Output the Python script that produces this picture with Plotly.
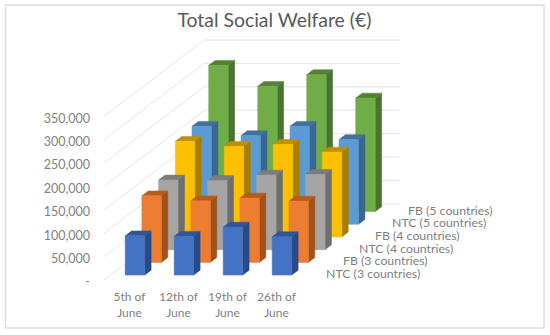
import plotly.graph_objects as go

categories = ["5th of<br>June", "12th of<br>June", "19th of<br>June", "26th of<br>June"]
series_names = ["NTC (3 countries)", "FB (3 countries)", "NTC (4 countries)",
                "FB (4 countries)", "NTC (5 countries)", "FB (5 countries)"]
ntc_3 = [84000, 83000, 102500, 82000]
fb_3 = [142300, 131600, 137400, 131000]
ntc_4 = [149000, 148000, 159600, 161000]
fb_4 = [204500, 193800, 198000, 181600]
ntc_5 = [209400, 189500, 209400, 181000]
fb_5 = [312600, 267700, 292700, 242700]
all_values = [ntc_3, fb_3, ntc_4, fb_4, ntc_5, fb_5]
y_ticks = [0, 50000, 100000, 150000, 200000, 250000, 300000, 350000]
y_labels = ["-", "50,000", "100,000", "150,000", "200,000", "250,000", "300,000", "350,000"]

front = ["#4472C4", "#ED7D31", "#A5A5A5", "#FFC000", "#5B9BD5", "#70AD47"]
side = ["#2A4A86", "#A0521C", "#6E6E6E", "#A87E00", "#3A6690", "#4A7230"]
top = ["#2F5597", "#B85C1E", "#7C7C7C", "#BF9000", "#41719C", "#548235"]

# scale of the drawing area
PX_X = 49.0                 # pixels per category
PX_Y = 23.4 / 50000         # pixels per value unit
DX = 16.7 / PX_X            # oblique shift per series, in category units
DY = 12.7 / PX_Y            # oblique shift per series, in value units
BAR_W = 19.5 / PX_X
BAR_D = 0.385               # depth of a bar, in series cells
BAR_F = 0.385               # gap in front of a bar, in series cells

fig = go.Figure()


def add_line(xs, ys, color="#E4E4E4", width=1):
    fig.add_trace(go.Scatter(x=xs, y=ys, mode="lines", line=dict(color=color, width=width),
                             hoverinfo="skip", showlegend=False))


n_s = len(all_values)
n_c = len(categories)
for v in y_ticks:
    add_line([0, n_s * DX, n_c + n_s * DX], [v, v + n_s * DY, v + n_s * DY])


def poly(out_x, out_y, pts):
    out_x += [p[0] for p in pts] + [pts[0][0], None]
    out_y += [p[1] for p in pts] + [pts[0][1], None]


for s in range(n_s - 1, -1, -1):
    fx, fy, sx, sy, tx, ty = [], [], [], [], [], []
    for c, val in enumerate(all_values[s]):
        x0 = c + 0.5 - BAR_W / 2 + (s + BAR_F) * DX
        x1 = x0 + BAR_W
        y0 = (s + BAR_F) * DY
        y1 = y0 + val
        ox, oy = BAR_D * DX, BAR_D * DY
        poly(fx, fy, [(x0, y0), (x1, y0), (x1, y1), (x0, y1)])
        poly(sx, sy, [(x1, y0), (x1 + ox, y0 + oy), (x1 + ox, y1 + oy), (x1, y1)])
        poly(tx, ty, [(x0, y1), (x1, y1), (x1 + ox, y1 + oy), (x0 + ox, y1 + oy)])
    for xs, ys, col in ((sx, sy, side[s]), (tx, ty, top[s]), (fx, fy, front[s])):
        fig.add_trace(go.Scatter(x=xs, y=ys, mode="lines", fill="toself", fillcolor=col,
                                 line=dict(color=col, width=0.5), name=series_names[s],
                                 hoverinfo="skip", showlegend=False))

TXT = "#7F7F7F"
FONT = "Lato, Carlito, Calibri, sans-serif"
for s, name in enumerate(series_names):
    fig.add_annotation(x=n_c + s * DX * 16.3 / 16.7 + 25.3 / PX_X, y=s * DY + 6.5 / PX_Y, text=name,
                       showarrow=False, xanchor="left", yanchor="middle", xshift=-1,
                       font=dict(family=FONT, size=12.3, color=TXT))

fig.update_layout(
    width=550, height=335, margin=dict(l=104, r=5, t=5, b=55),
    paper_bgcolor="white", plot_bgcolor="rgba(0,0,0,0)", showlegend=False,
    font=dict(family=FONT, color=TXT),
    title=dict(text="Total Social Welfare (€)", x=0.499, xanchor="center", y=1 - 20 / 335,
               yanchor="middle", font=dict(family=FONT, size=19.4, color="#595959")),
    xaxis=dict(range=[0, 441 / PX_X], tickvals=[i + 0.52 for i in range(n_c)], ticktext=categories,
               showgrid=False, zeroline=False, showline=False, ticks="", ticklabelstandoff=8,
               tickfont=dict(family=FONT, size=12, color=TXT), tickangle=0),
    yaxis=dict(range=[0, 275 / PX_Y], tickvals=y_ticks, ticktext=y_labels,
               showgrid=False, zeroline=False, showline=False, ticks="", ticklabelstandoff=13,
               ticklabelshift=2,
               tickfont=dict(family=FONT, size=12.5, color=TXT)),
    shapes=[dict(type="rect", xref="paper", yref="paper", layer="below",
                 x0=(5.5 - 104) / 441, x1=(544 - 104) / 441,
                 y0=(280 - 328) / 275, y1=(280 - 5) / 275,
                 line=dict(color="#DEDEDE", width=1.5), fillcolor="white")],
)
fig.write_html("out.html", config={"displayModeBar": False},
               post_script="document.body.style.margin='0';document.body.style.overflow='hidden';")
